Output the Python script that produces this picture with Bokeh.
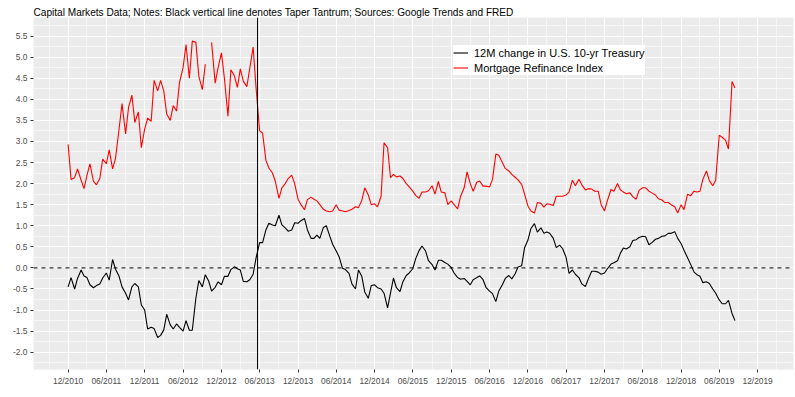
import numpy as np
import pandas as pd
from bokeh.plotting import figure
from bokeh.models import (Span, FixedTicker, DatetimeTickFormatter, NumeralTickFormatter,
                          Legend, LegendItem, Range1d)
from bokeh.embed import file_html
from bokeh.resources import INLINE

nan = float("nan")

# semi-monthly observations starting 2010-12-01
series_start = "2010-12-01"

refi_index = [
    2.93, 2.10, 2.14, 2.35, 2.08, 1.88, 2.20, 2.47, 2.05, 1.97,
    2.12, 2.58, 2.47, 2.80, 2.35, 2.60, 3.30, 3.90, 3.18, 3.80,
    4.10, 3.45, 3.70, 2.85, 3.30, 3.55, 3.48, 4.45, 4.20, 4.45,
    4.20, 3.65, 3.50, 3.85, 3.72, 4.40, 4.75, 5.30, 4.50, 5.38,
    5.35, 4.55, 4.23, 4.83, nan, 5.35, 4.38, 4.75, 5.10, 4.50,
    3.60, 4.70, 4.55, 4.28, 4.72, 4.43, 4.30, 4.73, 5.24, 4.27,
    3.25, 3.20, 2.55, 2.37, 2.25, 2.05, 1.65, 1.90, 2.00, 2.12,
    2.20, 2.00, 1.63, 1.50, 1.38, 1.62, 1.68, 1.63, 1.59, 1.50,
    1.39, 1.35, 1.33, 1.35, 1.50, 1.37, 1.35, 1.33, 1.36, 1.39,
    1.45, 1.43, 1.60, 1.90, 1.73, 1.50, 1.52, 1.45, 1.70, 2.97,
    2.85, 2.14, 2.22, 2.16, 2.18, 2.12, 2.00, 1.92, 1.82, 1.72,
    1.65, 1.80, 1.80, 1.83, 1.95, 1.75, 2.05, 1.80, 1.78, 1.50,
    1.59, 1.50, 1.40, 1.70, 1.90, 2.28, 2.00, 1.82, 2.03, 2.06,
    1.94, 1.94, 1.92, 2.10, 2.70, 2.67, 2.50, 2.36, 2.30, 2.22,
    2.15, 2.09, 1.98, 1.75, 1.47, 1.35, 1.30, 1.55, 1.53, 1.44,
    1.52, 1.51, 1.48, 1.70, 1.70, 1.70, 1.73, 1.80, 2.08, 1.95,
    2.10, 1.97, 1.85, 1.88, 1.87, 1.82, 1.82, 1.50, 1.35, 1.60,
    1.86, 1.82, 2.00, 1.85, 1.80, 1.76, 1.78, 1.69, 1.63, 1.84,
    1.90, 1.90, 1.82, 1.78, 1.73, 1.64, 1.61, 1.55, 1.55, 1.50,
    1.45, 1.30, 1.50, 1.38, 1.75, 1.71, 1.82, 1.80, 1.82, 2.10,
    2.30, 2.07, 1.95, 2.08, 3.15, 3.10, 3.03, 2.82, 4.42, 4.27,
]

ust10_12m_change = [
    -0.45, -0.23, -0.50, -0.25, -0.05, -0.19, -0.23, -0.40, -0.47, -0.42,
    -0.38, -0.24, -0.12, -0.29, 0.20, -0.03, -0.20, -0.45, -0.60, -0.76,
    -0.45, -0.37, -0.45, -0.88, -1.00, -1.45, -1.41, -1.44, -1.65, -1.60,
    -1.47, -1.10, -1.35, -1.45, -1.33, -1.41, -1.50, -1.25, -1.48, -1.48,
    -0.72, -0.30, -0.45, -0.16, -0.31, -0.55, -0.46, -0.33, -0.40, -0.20,
    -0.20, -0.04, 0.03, -0.02, -0.05, -0.32, -0.33, -0.28, -0.15, 0.24,
    0.60, 0.60, 0.90, 1.06, 1.02, 1.00, 1.25, 1.02, 0.95, 0.87,
    0.90, 1.07, 1.06, 1.12, 1.17, 0.90, 0.70, 0.70, 0.78, 0.70,
    0.96, 1.00, 0.76, 0.56, 0.40, 0.26, -0.01, -0.04, -0.13, -0.38,
    -0.50, -0.05, -0.20, -0.57, -0.72, -0.42, -0.40, -0.47, -0.50, -0.60,
    -0.95, -0.59, -0.24, -0.47, -0.56, -0.33, -0.18, -0.12, -0.02, 0.22,
    0.41, 0.52, 0.40, 0.17, 0.08, -0.05, 0.18, 0.18, 0.13, 0.09,
    0.01, -0.12, -0.23, -0.27, -0.25, -0.32, -0.40, -0.28, -0.23, -0.19,
    -0.28, -0.46, -0.55, -0.61, -0.80, -0.55, -0.40, -0.25, -0.18, -0.26,
    -0.14, 0.02, 0.05, 0.48, 0.66, 0.93, 1.05, 0.85, 0.95, 0.82,
    0.85, 0.82, 0.70, 0.48, 0.54, 0.46, 0.25, -0.13, -0.05, -0.15,
    -0.23, -0.38, -0.44, -0.26, -0.08, -0.08, -0.10, -0.15, -0.12, -0.02,
    0.09, 0.12, 0.17, 0.35, 0.47, 0.45, 0.50, 0.65, 0.67, 0.72,
    0.75, 0.74, 0.55, 0.60, 0.68, 0.70, 0.75, 0.76, 0.82, 0.82,
    0.86, 0.70, 0.58, 0.42, 0.24, 0.09, -0.10, -0.16, -0.20, -0.35,
    -0.33, -0.37, -0.50, -0.60, -0.76, -0.85, -0.85, -0.77, -1.08, -1.25,
]

taper_tantrum = "2013-05-22"
title_text = ("Capital Markets Data; Notes: Black vertical line denotes Taper Tantrum; "
              "Sources: Google Trends and FRED")
label_ust = "12M change in U.S. 10-yr Treasury"
label_refi = "Mortgage Refinance Index"
x_tick_dates = pd.date_range("2010-12-01", "2019-12-01", freq="6MS")
x_minor_dates = pd.date_range("2010-09-01", "2020-03-01", freq="6MS")
y_ticks = [-2.0, -1.5, -1.0, -0.5, 0.0, 0.5, 1.0, 1.5, 2.0, 2.5, 3.0, 3.5, 4.0, 4.5, 5.0, 5.5]

dates = pd.date_range(series_start, periods=len(refi_index), freq="SMS")

FONT = "Liberation Sans"

p = figure(width=794, height=396, x_axis_type="datetime",
           output_backend="svg", toolbar_location=None,
           x_range=Range1d(pd.Timestamp("2010-06-19"), pd.Timestamp("2020-05-20")),
           y_range=Range1d(-2.41, 5.94),
           min_border_left=33, min_border_right=1, min_border_bottom=27, min_border_top=17)

p.background_fill_color = "#EBEBEB"
p.border_fill_color = "white"
p.outline_line_color = None

p.title.text = title_text
p.title.text_font = FONT
p.title.text_font_size = "10.1px"
p.title.text_font_style = "normal"
p.title.text_color = "black"
p.title.align = "left"
p.title.standoff = 0
p.title.offset = 0

def to_ms(ts):
    return [t.value / 1e6 for t in ts]

p.xaxis.ticker = FixedTicker(ticks=to_ms(x_tick_dates), minor_ticks=to_ms(x_minor_dates))
p.xaxis.formatter = DatetimeTickFormatter(days="%m/%Y", months="%m/%Y", years="%m/%Y")
minor_y = [t + 0.25 for t in y_ticks] + [y_ticks[0] - 0.25]
p.yaxis.ticker = FixedTicker(ticks=y_ticks, minor_ticks=minor_y)
p.yaxis.formatter = NumeralTickFormatter(format="0.0")

for ax in (p.xaxis, p.yaxis):
    ax.axis_line_color = None
    ax.major_tick_line_color = "#333333"
    ax.major_tick_out = 3
    ax.major_tick_in = 0
    ax.minor_tick_line_color = None
    ax.major_label_text_font = FONT
    ax.major_label_text_font_size = "8.4px"
    ax.major_label_text_color = "#4D4D4D"
    ax.major_label_standoff = 2

for g in (p.xgrid, p.ygrid):
    g.grid_line_color = "white"
    g.grid_line_width = 1.1
    g.minor_grid_line_color = "white"
    g.minor_grid_line_width = 0.55

r_ust = p.line(dates, ust10_12m_change, line_color="black", line_width=1.1)
r_refi = p.line(dates, refi_index, line_color="#FF0000", line_width=1.1)

p.add_layout(Span(location=0, dimension="width", line_color="black",
                  line_dash="4 4", line_width=1))
p.add_layout(Span(location=pd.Timestamp(taper_tantrum).value / 1e6, dimension="height",
                  line_color="black", line_width=1))

legend = Legend(items=[LegendItem(label=label_ust, renderers=[r_ust]),
                       LegendItem(label=label_refi, renderers=[r_refi])],
                location=(420, 294))
legend.label_text_font = FONT
legend.label_text_font_size = "11px"
legend.label_text_color = "black"
legend.glyph_width = 15
legend.glyph_height = 15
legend.label_height = 15
legend.label_standoff = 6
legend.padding = 6
legend.spacing = 0
legend.margin = 0
legend.border_line_color = None
legend.background_fill_color = "white"
legend.background_fill_alpha = 1.0
p.add_layout(legend)

open("out.html", "w").write(file_html(p, INLINE))
